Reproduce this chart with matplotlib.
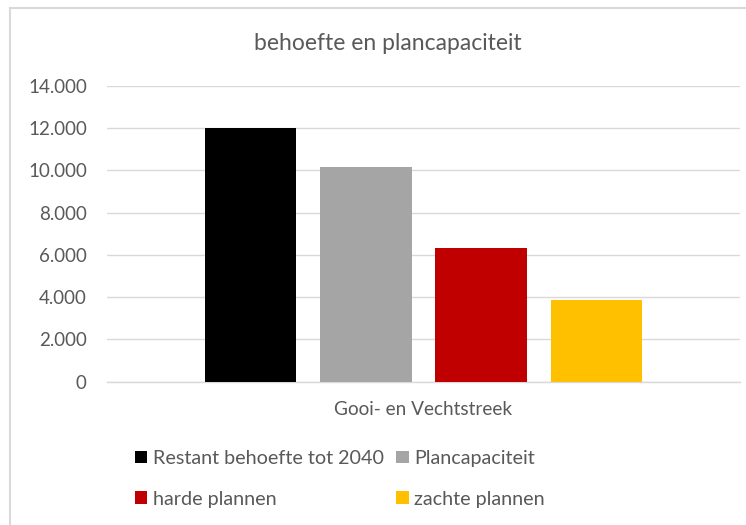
import numpy as np
import matplotlib
matplotlib.use("Agg")
import matplotlib.pyplot as plt
from matplotlib.patches import Patch
from matplotlib.lines import Line2D
from matplotlib.ticker import FuncFormatter

# data
category = "Gooi- en Vechtstreek"
series = ["Restant behoefte tot 2040", "Plancapaciteit", "harde plannen", "zachte plannen"]
values = [11980, 10170, 6340, 3860]
colors = ["#000000", "#a5a5a5", "#c00000", "#ffc000"]

plt.rcParams['font.family'] = ['Lato', 'DejaVu Sans']
txt = "#595959"
grid = "#d9d9d9"

fig = plt.figure(figsize=(7.46, 5.25), dpi=100)
ax = fig.add_axes([107/746, 1-381.7/525, (740-107)/746, (381.7-85.7)/525])

step = 0.1817
width = 0.1438
offsets = (np.arange(len(values)) - 1.5) * step
for off, v, c, s in zip(offsets, values, colors, series):
    ax.bar(0.5 + off, v, width=width, color=c, label=s, zorder=3)

ax.set_xlim(0, 1)
ax.set_ylim(0, 14000)
ax.set_yticks(np.arange(0, 14001, 2000))
ax.yaxis.set_major_formatter(FuncFormatter(lambda v, p: f"{int(v):,}".replace(",", ".")))
ax.set_xticks([0.5])
ax.set_xticklabels([category])
ax.tick_params(axis='y', length=0, pad=14.5, labelsize=13.5, labelcolor=txt)
ax.tick_params(axis='x', length=0, pad=14, labelsize=13.7, labelcolor=txt)
ax.yaxis.grid(True, color=grid, linewidth=1.0, zorder=0)
for sp in ["top", "right", "left"]:
    ax.spines[sp].set_visible(False)
ax.spines["bottom"].set_color(grid)
ax.spines["bottom"].set_linewidth(1.0)

fig.text(388/746, 1-43/525, "behoefte en plancapaciteit", ha="center", va="center",
         fontsize=16.5, color=txt)

# legend, row-major order with 2 columns
handles = [Patch(facecolor=c) for c in colors]
order = [0, 2, 1, 3]
leg = fig.legend([handles[i] for i in order], [series[i] for i in order], ncol=2,
                 loc="upper left", bbox_to_anchor=(135/746, 1-450/525), frameon=False,
                 borderpad=0, borderaxespad=0,
                 fontsize=14.2, handlelength=0.62, handleheight=0.62, handletextpad=0.27,
                 columnspacing=0.65, labelspacing=1.2, labelcolor=txt)

# chart frame
fig.add_artist(Line2D([10/746, 1], [1-8/525, 1-8/525], color=grid, linewidth=1.5))
fig.add_artist(Line2D([10/746, 10/746], [0, 1-8/525], color=grid, linewidth=1.5))

fig.savefig("out.png", dpi=100)
